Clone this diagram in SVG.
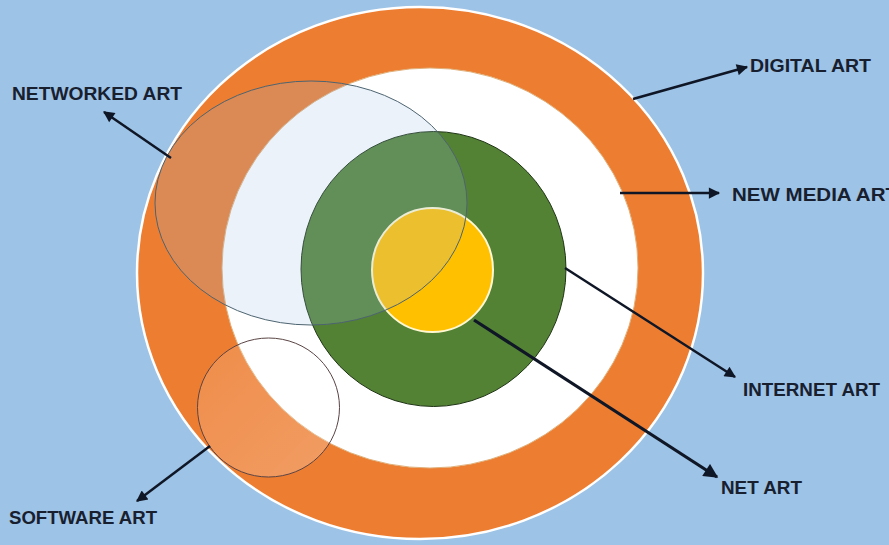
<svg xmlns="http://www.w3.org/2000/svg" width="889" height="545" viewBox="0 0 889 545">
<defs>
<style>
.lbl{font-family:"Liberation Sans",Arial,sans-serif;font-weight:bold;font-size:19px;fill:#18202f}
.arr{stroke:#0f1626;stroke-width:2.5;fill:none;marker-end:url(#ah)}
</style>
<marker id="ah" viewBox="0 0 10 10" refX="9" refY="5" markerWidth="5" markerHeight="4.5" orient="auto" markerUnits="strokeWidth">
<path d="M0,0 L10,5 L0,10 Z" fill="#0f1626"/>
</marker>
<linearGradient id="glass" x1="0" y1="0" x2="1" y2="1">
<stop offset="0" stop-color="#ffffff" stop-opacity="0.12"/>
<stop offset="1" stop-color="#ffffff" stop-opacity="0.25"/>
</linearGradient>
</defs>
<rect width="889" height="545" fill="#9dc3e6"/>
<g id="digital-art">
<ellipse cx="420" cy="273" rx="283" ry="266" fill="#ed7d31" stroke="#ffffff" stroke-width="2.5"/>
</g>
<g id="new-media-art">
<ellipse cx="430" cy="268" rx="208" ry="200" fill="#ffffff" stroke="#e0b07a" stroke-width="1"/>
</g>
<g id="internet-art">
<ellipse cx="433.5" cy="269" rx="132.5" ry="137.5" fill="#548235" stroke="#1e3414" stroke-width="1"/>
</g>
<g id="net-art">
<ellipse cx="432.5" cy="270" rx="60.5" ry="62" fill="#ffc000" stroke="#fff8d0" stroke-width="2"/>
</g>
<g id="networked-art">
<ellipse cx="311" cy="203" rx="156" ry="122" fill="#9cbce6" fill-opacity="0.2" stroke="#4d6470" stroke-width="1"/>
</g>
<g id="software-art">
<ellipse cx="268.5" cy="407.5" rx="71" ry="69.5" fill="url(#glass)" stroke="#5a4444" stroke-width="1"/>
</g>
<g id="connectors">
<line class="arr" x1="171" y1="158" x2="104" y2="112"/>
<line class="arr" x1="633" y1="99" x2="747" y2="67"/>
<line class="arr" x1="620" y1="193" x2="719" y2="193"/>
<line class="arr" x1="565" y1="268" x2="735" y2="377"/>
<line class="arr" x1="474" y1="320" x2="717" y2="477" style="stroke-width:3.2"/>
<line class="arr" x1="210" y1="446" x2="137" y2="501"/>
</g>
<g id="labels">
<text class="lbl" x="12" y="100" textLength="170" lengthAdjust="spacingAndGlyphs">NETWORKED ART</text>
<text class="lbl" x="750" y="72" textLength="121" lengthAdjust="spacingAndGlyphs">DIGITAL ART</text>
<text class="lbl" x="732" y="201" textLength="166" lengthAdjust="spacingAndGlyphs">NEW MEDIA ART</text>
<text class="lbl" x="743" y="396" textLength="137" lengthAdjust="spacingAndGlyphs">INTERNET ART</text>
<text class="lbl" x="721" y="494" textLength="81" lengthAdjust="spacingAndGlyphs">NET ART</text>
<text class="lbl" x="9" y="524" textLength="148" lengthAdjust="spacingAndGlyphs">SOFTWARE ART</text>
</g>
</svg>
